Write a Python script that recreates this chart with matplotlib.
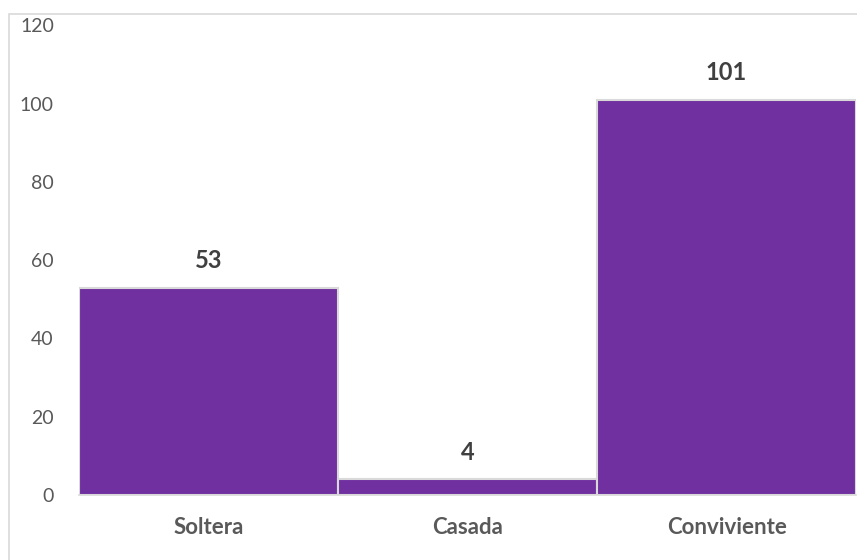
import matplotlib.pyplot as plt
from matplotlib.patches import Rectangle

categories = ['Soltera', 'Casada', 'Conviviente']
values = [53, 4, 101]
yticks = [0, 20, 40, 60, 80, 100, 120]

plt.rcParams['font.family'] = ['Lato', 'DejaVu Sans']

fig = plt.figure(figsize=(8.57, 5.6), dpi=100)
ax = fig.add_axes([0.092, 0.116, 0.907, 0.839])

# outer chart border
fig.patches.append(Rectangle((9 / 857, -0.01), 1.0, 1 - 14 / 560 + 0.01,
                             transform=fig.transFigure, fill=False,
                             edgecolor='#D9D9D9', linewidth=1.2))

bars = ax.bar(range(len(categories)), values, width=1.0, color='#7030A0',
              edgecolor='#D9D9D9', linewidth=1.5)
for b, v in zip(bars, values):
    ax.text(b.get_x() + b.get_width() / 2, v + 6.8, str(v), ha='center', va='center',
            fontsize=17, fontweight='bold', color='#404040')

ax.set_xlim(-0.5, 2.5)
ax.set_ylim(0, 120)
ax.set_yticks(yticks)
ax.set_xticks(range(len(categories)))
ax.set_xticklabels(categories, fontweight='bold')
ax.tick_params(axis='y', length=0, labelsize=14, labelcolor='#595959', pad=18)
ax.tick_params(axis='x', length=0, labelsize=16, labelcolor='#595959', pad=16)
for s in ['top', 'right', 'left']:
    ax.spines[s].set_visible(False)
ax.spines['bottom'].set_color('#D9D9D9')
ax.spines['bottom'].set_linewidth(1.2)

fig.savefig('out.png', dpi=100)
